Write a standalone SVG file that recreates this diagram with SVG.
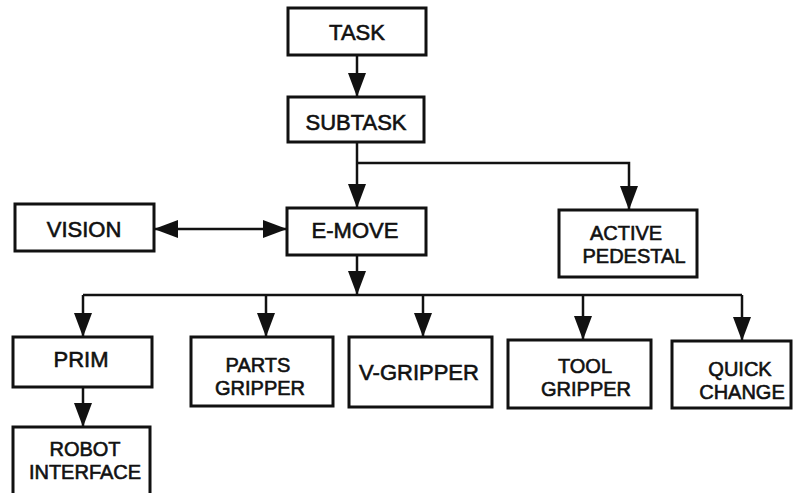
<svg xmlns="http://www.w3.org/2000/svg" width="793" height="493" viewBox="0 0 793 493">
<style>
.box{fill:#fff;stroke:#111;stroke-width:3}
.lbl{font-family:"Liberation Sans",Arial,sans-serif;font-size:22px;fill:#111;text-anchor:middle;stroke:#111;stroke-width:0.6}
.two{font-size:20px}
.con{fill:none;stroke:#111;stroke-width:2.5}
</style>
<defs>
<marker id="ah" viewBox="0 0 24 18" markerWidth="24" markerHeight="18" refX="24" refY="9" orient="auto-start-reverse" markerUnits="userSpaceOnUse">
<path d="M0,0 L24,9 L0,18 z" fill="#111"/>
</marker>
</defs>
<rect width="793" height="493" fill="#fff"/>
<g id="connectors">
<path class="con" d="M357,55 V97" marker-end="url(#ah)"/>
<path class="con" d="M357,142 V208" marker-end="url(#ah)"/>
<path class="con" d="M357,163 H629 V210" marker-end="url(#ah)"/>
<path class="con" d="M154,229 H287" marker-start="url(#ah)" marker-end="url(#ah)"/>
<path class="con" d="M357,255 V295" marker-end="url(#ah)"/>
<path class="con" d="M83,295 H742"/>
<path class="con" d="M83,295 V337" marker-end="url(#ah)"/>
<path class="con" d="M266,295 V337" marker-end="url(#ah)"/>
<path class="con" d="M423,295 V337" marker-end="url(#ah)"/>
<path class="con" d="M583,295 V340" marker-end="url(#ah)"/>
<path class="con" d="M742,295 V341" marker-end="url(#ah)"/>
<path class="con" d="M83,387 V427" marker-end="url(#ah)"/>
</g>
<g id="task"><rect class="box" x="288" y="8" width="138" height="47"/><text class="lbl" x="357" y="40">TASK</text></g>
<g id="subtask"><rect class="box" x="288" y="97" width="136" height="45"/><text class="lbl" x="356" y="130">SUBTASK</text></g>
<g id="vision"><rect class="box" x="15" y="204" width="139" height="47"/><text class="lbl" x="84" y="237">VISION</text></g>
<g id="emove"><rect class="box" x="287" y="208" width="139" height="47"/><text class="lbl" x="355" y="238">E-MOVE</text></g>
<g id="active-pedestal"><rect class="box" x="559" y="210" width="138" height="67"/><text class="lbl two" x="626" y="240">ACTIVE</text><text class="lbl two" x="634" y="263">PEDESTAL</text></g>
<g id="prim"><rect class="box" x="13" y="337" width="139" height="50"/><text class="lbl" x="81" y="367">PRIM</text></g>
<g id="robot-interface"><rect class="box" x="13" y="427" width="137" height="72"/><text class="lbl two" x="85" y="456">ROBOT</text><text class="lbl two" x="85" y="479">INTERFACE</text></g>
<g id="parts-gripper"><rect class="box" x="191" y="337" width="142" height="69"/><text class="lbl two" x="258" y="372">PARTS</text><text class="lbl two" x="260" y="395">GRIPPER</text></g>
<g id="v-gripper"><rect class="box" x="349" y="337" width="143" height="70"/><text class="lbl" x="419" y="380">V-GRIPPER</text></g>
<g id="tool-gripper"><rect class="box" x="508" y="340" width="143" height="68"/><text class="lbl two" x="585" y="373">TOOL</text><text class="lbl two" x="586" y="396">GRIPPER</text></g>
<g id="quick-change"><rect class="box" x="672" y="341" width="119" height="67"/><text class="lbl two" x="740" y="376">QUICK</text><text class="lbl two" x="742" y="399">CHANGE</text></g>
</svg>
